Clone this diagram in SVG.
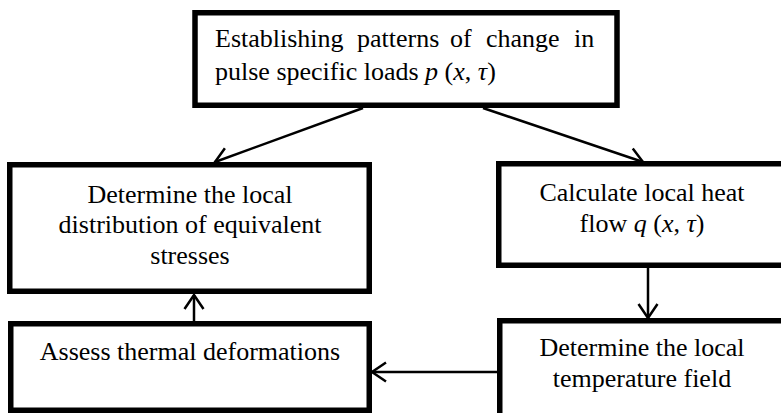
<svg xmlns="http://www.w3.org/2000/svg" width="781" height="413" viewBox="0 0 781 413">
<style>
.box{fill:#fff;stroke:#000;stroke-width:5.5}
.t{font-family:"Liberation Serif","Times New Roman",serif;font-size:26px;fill:#000}
.c{text-anchor:middle}
.i{font-style:italic}
.ln{stroke:#000;stroke-width:2.5;fill:none}
</style>
<defs>
<marker id="ah" markerUnits="userSpaceOnUse" markerWidth="30" markerHeight="30" viewBox="-20 -15 30 30" refX="0" refY="0" orient="auto">
<path d="M-14,-9.5 L0,0 L-14,9.5" fill="none" stroke="#000" stroke-width="2.5"/>
</marker>
</defs>
<rect width="781" height="413" fill="#fff"/>
<g id="connectors">
<line class="ln" x1="363" y1="108" x2="215" y2="162" marker-end="url(#ah)"/>
<line class="ln" x1="483" y1="108" x2="643" y2="162" marker-end="url(#ah)"/>
<line class="ln" x1="648" y1="268" x2="648" y2="318" marker-end="url(#ah)"/>
<line class="ln" x1="497" y1="372" x2="372" y2="372" marker-end="url(#ah)"/>
<line class="ln" x1="194" y1="321" x2="194" y2="295" marker-end="url(#ah)"/>
</g>
<g id="n-patterns">
<rect class="box" x="195" y="12.75" width="422" height="92.5"/>
<text class="t" y="47"><tspan x="215">Establishing</tspan><tspan x="357">patterns</tspan><tspan x="450">of</tspan><tspan x="486">change</tspan><tspan x="574">in</tspan></text>
<text class="t" x="215" y="80">pulse specific loads <tspan class="i">p</tspan> (<tspan class="i">x</tspan>, <tspan class="i">τ</tspan>)</text>
</g>
<g id="n-stresses">
<rect class="box" x="9.75" y="164.75" width="359.5" height="126.5"/>
<text class="t c" x="190" y="203">Determine the local</text>
<text class="t c" x="190" y="233">distribution of equivalent</text>
<text class="t c" x="190" y="264">stresses</text>
</g>
<g id="n-heatflow">
<rect class="box" x="498.75" y="163.75" width="300" height="101.5"/>
<text class="t c" x="642" y="201">Calculate local heat</text>
<text class="t c" x="642" y="232">flow <tspan class="i">q</tspan> (<tspan class="i">x</tspan>, <tspan class="i">τ</tspan>)</text>
</g>
<g id="n-temperature">
<rect class="box" x="499.75" y="320.75" width="300" height="120"/>
<text class="t c" x="642" y="356">Determine the local</text>
<text class="t c" x="642" y="387">temperature field</text>
</g>
<g id="n-deformations">
<rect class="box" x="10.75" y="323.75" width="358.5" height="86.5"/>
<text class="t c" x="190" y="360">Assess thermal deformations</text>
</g>
</svg>
